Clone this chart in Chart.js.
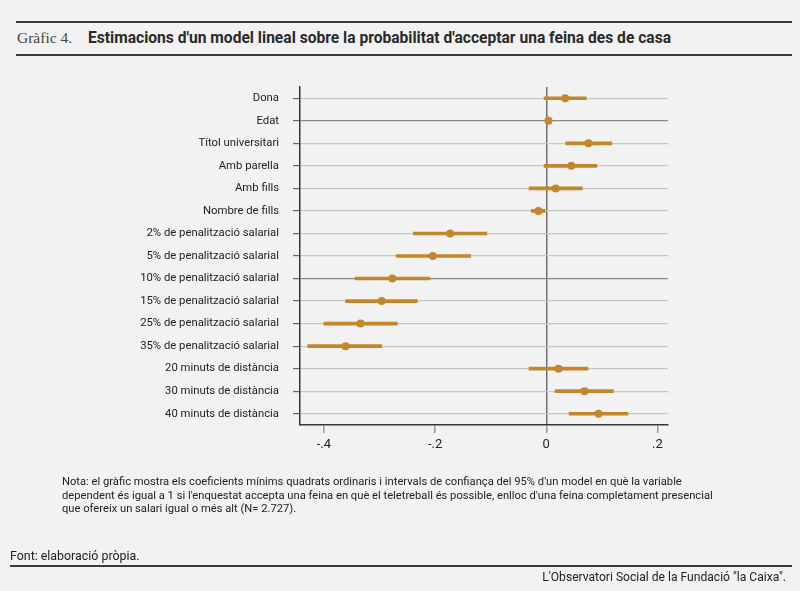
<!DOCTYPE html>
<html>
<head>
<meta charset="utf-8">
<script src="https://cdn.jsdelivr.net/npm/chart.js@4.4.1/dist/chart.umd.min.js"></script>
<style>
  body { margin: 0; background: #f2f2f2; width: 800px; height: 591px; overflow: hidden; position: relative; font-family: Roboto, sans-serif; color: #222; }
  #chart { position: absolute; left: 0; top: 0; }
  .rule { position: absolute; height: 2px; background: #3e3a38; }
  .txt { position: absolute; white-space: nowrap; }
</style>
</head>
<body>
<div class="rule" style="left:16px; width:776px; top:21px;"></div>
<div class="txt" style="left:17px; top:29px; font-family:'Liberation Serif', serif; font-size:15.5px; color:#444;">Gràfic 4.</div>
<div class="txt" style="left:88px; top:29px; font-size:15.6px; font-weight:bold; color:#2a2a2a;">Estimacions d'un model lineal sobre la probabilitat d'acceptar una feina des de casa</div>
<div class="rule" style="left:16px; width:776px; top:54px;"></div>

<canvas id="chart" width="800" height="591"></canvas>

<div class="txt" style="left:62px; top:475px; font-size:11.2px; line-height:13.5px; color:#222;">Nota: el gràfic mostra els coeficients mínims quadrats ordinaris i intervals de confiança del 95% d'un model en què la variable<br>dependent és igual a 1 si l'enquestat accepta una feina en què el teletreball és possible, enlloc d'una feina completament presencial<br>que ofereix un salari igual o més alt (N= 2.727).</div>
<div class="txt" style="left:10px; top:548px; font-size:12.4px; color:#222;">Font: elaboració pròpia.</div>
<div class="rule" style="left:10px; width:782px; top:565px;"></div>
<div class="txt" style="right:14px; top:570px; font-size:12.1px; color:#222;">L'Observatori Social de la Fundació "la Caixa".</div>

<script>
// Variables del model
const categories = [
  'Dona', 'Edat', 'Títol universitari', 'Amb parella', 'Amb fills', 'Nombre de fills',
  '2% de penalització salarial', '5% de penalització salarial', '10% de penalització salarial',
  '15% de penalització salarial', '25% de penalització salarial', '35% de penalització salarial',
  '20 minuts de distància', '30 minuts de distància', '40 minuts de distància'
];
// Coeficients i intervals de confiança del 95%
const coef   = [0.034, 0.004, 0.076, 0.045, 0.017, -0.014, -0.173, -0.204, -0.277, -0.296, -0.334, -0.361, 0.022, 0.069, 0.094];
const ciLow  = [-0.004, 0.001, 0.035, -0.004, -0.031, -0.027, -0.239, -0.270, -0.344, -0.361, -0.400, -0.429, -0.031, 0.016, 0.041];
const ciHigh = [0.072, 0.007, 0.118, 0.091, 0.065, -0.002, -0.107, -0.136, -0.209, -0.232, -0.268, -0.296, 0.075, 0.121, 0.147];
// Marques de l'eix horitzontal
const xTicks = [-0.4, -0.2, 0, 0.2];
const xTickLabels = ['-.4', '-.2', '0', '.2'];

const ORANGE = '#c4862a';
const darkRows = ['Edat', '10% de penalització salarial'];

new Chart(document.getElementById('chart'), {
  data: {
    labels: categories,
    datasets: [
      {
        type: 'line',
        indexAxis: 'y',
        data: coef,
        showLine: false,
        pointRadius: 4,
        pointBackgroundColor: ORANGE,
        pointBorderWidth: 0
      },
      {
        type: 'bar',
        indexAxis: 'y',
        data: ciLow.map((l, i) => [l, ciHigh[i]]),
        backgroundColor: ORANGE,
        borderWidth: 0,
        barThickness: 3
      }
    ]
  },
  options: {
    indexAxis: 'y',
    responsive: false,
    animation: false,
    layout: { padding: { top: 87, right: 132, bottom: 136, left: 0 } },
    plugins: { legend: { display: false }, tooltip: { enabled: false } },
    scales: {
      x: {
        type: 'linear',
        min: -0.443,
        max: 0.219,
        afterBuildTicks: (scale) => { scale.ticks = xTicks.map(v => ({ value: v })); },
        afterFit: (scale) => { scale.height = 30; },
        border: { color: '#3a3532', width: 1.5 },
        grid: {
          color: (ctx) => (ctx.tick && ctx.tick.value === 0) ? '#6e6e6e' : 'rgba(0,0,0,0)',
          lineWidth: 1.5,
          tickColor: '#999',
          tickLength: 8
        },
        ticks: {
          autoSkip: false,
          maxRotation: 0,
          padding: 4,
          color: '#222',
          font: { family: 'Roboto', size: 13 },
          callback: (value, index) => xTickLabels[index]
        }
      },
      y: {
        type: 'category',
        offset: true,
        afterFit: (scale) => { scale.width = 300; },
        border: { color: '#3a3532', width: 1.5 },
        grid: {
          offset: false,
          color: (ctx) => darkRows.includes(categories[ctx.index]) ? '#8a8a8a' : '#c6c6c6',
          lineWidth: 1.2,
          tickColor: '#666',
          tickLength: 7
        },
        ticks: {
          autoSkip: false,
          padding: 14,
          color: '#222',
          font: { family: 'Roboto', size: 11.3 }
        }
      }
    }
  }
});
</script>
</body>
</html>
